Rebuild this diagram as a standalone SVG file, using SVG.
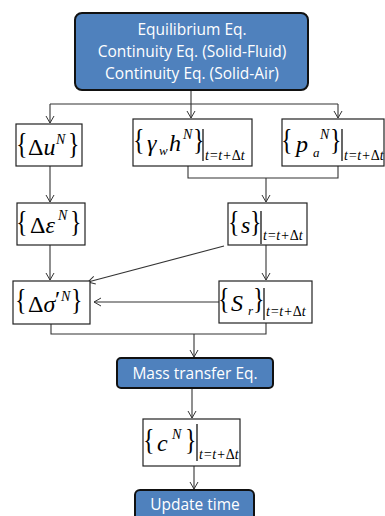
<svg xmlns="http://www.w3.org/2000/svg" width="385" height="516" viewBox="0 0 385 516">
<defs>
<marker id="ah" markerWidth="10" markerHeight="10" refX="8" refY="5" orient="auto" markerUnits="userSpaceOnUse">
<polyline points="1,1 8,5 1,9" fill="none" stroke="#333" stroke-width="1"/>
</marker>
<style>
.bx{fill:#fff;stroke:#222;stroke-width:1.2}
.bl{fill:#4F81BD;stroke:#111;stroke-width:2}
.bt{font-family:"Open Sans","Liberation Sans",sans-serif;fill:#fff;text-anchor:middle}
.m{font-family:"Liberation Serif",serif;font-size:24px;fill:#000}
.i{font-style:italic}
.u{font-style:normal}
.sp{font-family:"Liberation Serif",serif;font-size:14px;font-style:italic}
.sw{font-family:"Liberation Serif",serif;font-size:13px;font-style:italic}
.sb{font-family:"Liberation Serif",serif;font-size:14px;font-style:italic}
.br{font-family:"Liberation Serif",serif;font-size:24px}
.c{fill:none;stroke:#333;stroke-width:1.1}
.bar{stroke:#000;stroke-width:1.2}
</style>
</defs>

<g id="connectors">
<path class="c" d="M191,91 V104"/>
<path class="c" d="M50,104 H338"/>
<path class="c" d="M50,104 V123" marker-end="url(#ah)"/>
<path class="c" d="M191,104 V118" marker-end="url(#ah)"/>
<path class="c" d="M338,104 V118" marker-end="url(#ah)"/>
<path class="c" d="M50,166 V202" marker-end="url(#ah)"/>
<path class="c" d="M188,166 V178 H338 V166"/>
<path class="c" d="M266,178 V202" marker-end="url(#ah)"/>
<path class="c" d="M50,245 V280" marker-end="url(#ah)"/>
<path class="c" d="M266,245 V280" marker-end="url(#ah)"/>
<path class="c" d="M224,246 L88,282" marker-end="url(#ah)"/>
<path class="c" d="M219,302 H94" marker-end="url(#ah)"/>
<path class="c" d="M51,324 V334 H266 V323"/>
<path class="c" d="M194,334 V357" marker-end="url(#ah)"/>
<path class="c" d="M192,389 V418" marker-end="url(#ah)"/>
<path class="c" d="M194,466 V489" marker-end="url(#ah)"/>
</g>

<g id="top">
<rect class="bl" x="75" y="13" width="233" height="77" rx="7"/>
<text class="bt" font-size="15.5"><tspan x="192" y="35">Equilibrium Eq.</tspan><tspan x="192" y="57">Continuity Eq. (Solid-Fluid)</tspan><tspan x="192" y="79">Continuity Eq. (Solid-Air)</tspan></text>
</g>

<g id="du">
<rect class="bx" x="16" y="124" width="66" height="42"/>
<text class="br" transform="translate(16,153) scale(1,1.22)">{</text>
<text class="m" x="28" y="155">Δ<tspan class="i">u</tspan></text>
<text class="sp" x="56" y="144">N</text>
<text class="br" transform="translate(68,153) scale(1,1.22)">}</text>
</g>

<g id="gh">
<rect class="bx" x="133" y="119" width="119" height="47"/>
<text class="br" transform="translate(133,149) scale(1,1.22)">{</text>
<text class="m i" x="147" y="151">γ</text>
<text class="sw" x="159" y="155">w</text>
<text class="m i" x="169" y="151">h</text>
<text class="sp" x="183" y="139">N</text>
<text class="br" transform="translate(193,149) scale(1,1.22)">}</text>
<line class="bar" x1="203" y1="129" x2="203" y2="161"/>
<text class="sb" x="205" y="160">t=t+<tspan class="u">Δ</tspan>t</text>
</g>

<g id="pa">
<rect class="bx" x="282" y="119" width="102" height="47"/>
<text class="br" transform="translate(281,149) scale(1,1.22)">{</text>
<text class="m i" x="296" y="152">p</text>
<text class="sw" x="313" y="157">a</text>
<text class="sp" x="320" y="139">N</text>
<text class="br" transform="translate(330,149) scale(1,1.22)">}</text>
<line class="bar" x1="342" y1="129" x2="342" y2="161"/>
<text class="sb" x="344" y="160">t=t+<tspan class="u">Δ</tspan>t</text>
</g>

<g id="de">
<rect class="bx" x="17" y="203" width="68" height="42"/>
<text class="br" transform="translate(16,231) scale(1,1.22)">{</text>
<text class="m" x="30" y="233">Δ<tspan class="i">ε</tspan></text>
<text class="sp" x="58" y="220">N</text>
<text class="br" transform="translate(70,231) scale(1,1.22)">}</text>
</g>

<g id="s">
<rect class="bx" x="228" y="203" width="79" height="42"/>
<text class="br" transform="translate(228,231) scale(1,1.22)">{</text>
<text class="m i" x="241" y="233">s</text>
<text class="br" transform="translate(250,231) scale(1,1.22)">}</text>
<line class="bar" x1="261" y1="211" x2="261" y2="244"/>
<text class="sb" x="263" y="240">t=t+<tspan class="u">Δ</tspan>t</text>
</g>

<g id="dsig">
<rect class="bx" x="13" y="281" width="77" height="43"/>
<text class="br" transform="translate(15,309) scale(1,1.22)">{</text>
<text class="m" x="28" y="312">Δ<tspan class="i">σ</tspan></text>
<text class="m" x="55" y="307" font-size="20">′</text>
<text class="sp" x="61" y="301">N</text>
<text class="br" transform="translate(71,309) scale(1,1.22)">}</text>
</g>

<g id="sr">
<rect class="bx" x="219" y="281" width="93" height="42"/>
<text class="br" transform="translate(218,308) scale(1,1.22)">{</text>
<text class="m i" x="231" y="311">S</text>
<text class="sw" x="248" y="315">r</text>
<text class="br" transform="translate(253,308) scale(1,1.22)">}</text>
<line class="bar" x1="264" y1="288" x2="264" y2="320"/>
<text class="sb" x="266" y="316">t=t+<tspan class="u">Δ</tspan>t</text>
</g>

<g id="mass">
<rect class="bl" x="117" y="358" width="156" height="30" rx="4"/>
<text class="bt" x="195" y="379" font-size="15.5">Mass transfer Eq.</text>
</g>

<g id="c">
<rect class="bx" x="143" y="419" width="97" height="47"/>
<text class="br" transform="translate(143,449) scale(1,1.22)">{</text>
<text class="m i" x="157" y="451">c</text>
<text class="sp" x="172" y="439">N</text>
<text class="br" transform="translate(185,449) scale(1,1.22)">}</text>
<line class="bar" x1="197" y1="424" x2="197" y2="461"/>
<text class="sb" x="199" y="459">t=t+<tspan class="u">Δ</tspan>t</text>
</g>

<g id="update">
<rect class="bl" x="135" y="490" width="119" height="40" rx="5"/>
<text class="bt" x="195" y="510" font-size="15.5">Update time</text>
</g>
</svg>
